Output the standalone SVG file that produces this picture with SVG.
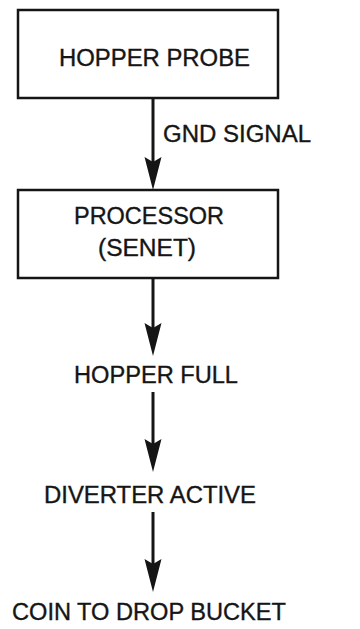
<svg xmlns="http://www.w3.org/2000/svg" width="360" height="629" viewBox="0 0 360 629">
  <defs>
    <style>
      .box { fill: none; stroke: #151515; stroke-width: 2.5; }
      .lbl { font-family: "Liberation Sans", Arial, sans-serif; font-size: 23px; fill: #151515; stroke: #151515; stroke-width: 0.35; }
      .conn { stroke: #151515; stroke-width: 3; fill: none; marker-end: url(#arrow); }
    </style>
    <marker id="arrow" viewBox="0 -9 34 18" markerWidth="34" markerHeight="18" refX="23" refY="0" markerUnits="userSpaceOnUse" orient="auto">
      <path d="M0,-8.5 L5,0 L0,8.5 L33,0 Z" fill="#151515"/>
    </marker>
  </defs>
  <rect width="360" height="629" fill="#ffffff"/>

  <g id="hopper-probe">
    <rect class="box" x="18" y="10" width="260" height="88"/>
    <text class="lbl" x="59" y="66" textLength="191" lengthAdjust="spacingAndGlyphs">HOPPER PROBE</text>
  </g>

  <g id="processor">
    <rect class="box" x="18" y="190" width="260" height="88"/>
    <text class="lbl" x="74" y="224" textLength="150" lengthAdjust="spacingAndGlyphs">PROCESSOR</text>
    <text class="lbl" x="98" y="256" textLength="98" lengthAdjust="spacingAndGlyphs">(SENET)</text>
  </g>

  <g id="hopper-full">
    <text class="lbl" x="74" y="383" textLength="164" lengthAdjust="spacingAndGlyphs">HOPPER FULL</text>
  </g>

  <g id="diverter-active">
    <text class="lbl" x="44" y="503" textLength="212" lengthAdjust="spacingAndGlyphs">DIVERTER ACTIVE</text>
  </g>

  <g id="coin-to-drop-bucket">
    <text class="lbl" x="12" y="620" textLength="274" lengthAdjust="spacingAndGlyphs">COIN TO DROP BUCKET</text>
  </g>

  <g id="connectors">
    <line class="conn" x1="153" y1="98" x2="153" y2="180"/>
    <text class="lbl" x="163" y="142" textLength="148" lengthAdjust="spacingAndGlyphs">GND SIGNAL</text>
    <line class="conn" x1="153" y1="278" x2="153" y2="346"/>
    <line class="conn" x1="153" y1="392" x2="153" y2="462"/>
    <line class="conn" x1="153" y1="512" x2="153" y2="582"/>
  </g>
</svg>
